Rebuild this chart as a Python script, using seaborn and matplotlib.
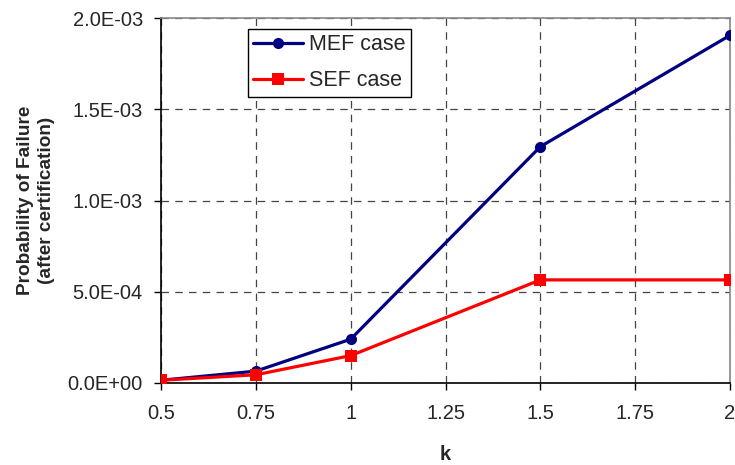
import matplotlib
matplotlib.use("Agg")
import matplotlib.pyplot as plt
import seaborn as sns
import pandas as pd
from matplotlib.ticker import FuncFormatter

k = [0.5, 0.75, 1.0, 1.5, 2.0]
mef = [1.5e-5, 6.5e-5, 2.4e-4, 1.295e-3, 1.905e-3]
sef = [1.5e-5, 4.5e-5, 1.5e-4, 5.65e-4, 5.65e-4]
xticks = [0.5, 0.75, 1, 1.25, 1.5, 1.75, 2]
xticklabels = ["0.5", "0.75", "1", "1.25", "1.5", "1.75", "2"]
yticks = [0, 5e-4, 1e-3, 1.5e-3, 2e-3]

df = pd.DataFrame({"k": k * 2, "p": mef + sef,
                   "case": ["MEF case"] * len(k) + ["SEF case"] * len(k)})

sns.set_style("white")
plt.rcParams['font.family'] = ['Liberation Sans', 'DejaVu Sans']

fig = plt.figure(figsize=(7.35, 4.65), dpi=100)
ax = fig.add_axes([161/735, 1 - 383/465, (730-161)/735, (383-18)/465])

sns.lineplot(data=df, x="k", y="p", hue="case", style="case",
             palette={"MEF case": "#000080", "SEF case": "#ff0000"},
             markers={"MEF case": "o", "SEF case": "s"},
             dashes=False, linewidth=2.3, markersize=8, markeredgewidth=0,
             ax=ax, zorder=3)

ax.set_xlim(0.5, 2)
ax.set_ylim(0, 2e-3)
ax.set_xticks(xticks)
ax.set_xticklabels(xticklabels)
ax.set_yticks(yticks)
ax.yaxis.set_major_formatter(FuncFormatter(lambda v, p: "%.1E" % v))
ax.grid(True, linestyle=(0, (6, 5)), color="#444444", linewidth=0.9)
ax.set_axisbelow(True)
ax.tick_params(axis="both", direction="out", length=5, width=1, color="black",
               labelsize=14.5, pad=8, bottom=True, left=True)
ax.tick_params(axis="x", pad=10)
for s in ["left", "bottom"]:
    ax.spines[s].set_color("black")
    ax.spines[s].set_linewidth(1.2)
for s in ["top", "right"]:
    ax.spines[s].set_color("#888888")
    ax.spines[s].set_linewidth(1.2)

ax.set_xlabel("k", fontsize=14.5, fontweight="bold", labelpad=16)
ax.set_ylabel("Probability of Failure\n(after certification)", fontsize=13.7,
              fontweight="bold", labelpad=9, linespacing=1.35)

leg = ax.legend(loc="upper left", bbox_to_anchor=(87/569, (383-29)/365), fontsize=15.5,
                frameon=True, fancybox=False, edgecolor="black",
                handlelength=2.3, borderpad=0.25, labelspacing=0.7,
                handletextpad=0.3, borderaxespad=0)
leg.get_frame().set_linewidth(1.0)
leg.get_frame().set_alpha(1)

fig.savefig("out.png", dpi=100)
